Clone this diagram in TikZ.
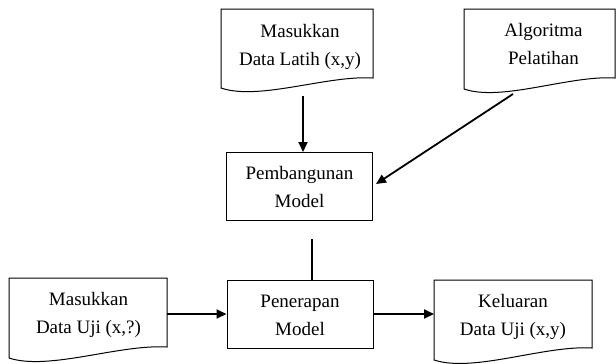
\documentclass[tikz,border=0pt]{standalone}
\usepackage{fontspec}
\setmainfont{Liberation Serif}
\usetikzlibrary{arrows.meta}
\newcommand\docshape[5]{\draw[docline] (#1,#3) -- (#2,#3) -- (#2,#5) .. controls ({#1+0.7*(#2-#1)},{#5-3}) and ({#1+0.25*(#2-#1)},{#4+13}) .. (#1,#4) -- cycle;}
\tikzset{
  lbl/.style={font=\fontsize{19}{28}\selectfont, align=center, inner sep=0pt, text height=42pt, text depth=5pt},
  boxnode/.style={draw, line width=1pt, minimum width=146pt, minimum height=68pt, inner sep=0pt,
    font=\fontsize{19}{28}\selectfont, align=center, text height=47pt, text depth=5pt},
  docline/.style={line width=1pt, line join=miter},
  arr/.style={line width=1.8pt, -{Triangle[length=10pt,width=9pt]}},
  plain/.style={line width=1.5pt},
}
\begin{document}
\begin{tikzpicture}[x=1pt,y=-1pt]
\useasboundingbox (0,0) rectangle (616,364);
% documents
\docshape{221}{373}{9}{88}{78}
\docshape{464}{615}{9}{89}{78}
\docshape{9}{167}{278}{358}{347}
\docshape{434}{592}{280}{360}{348}
\node[lbl] (d1) at (300,46.5) {Masukkan\\Data Latih (x,y)};
\node[lbl] (d2) at (543.5,46) {Algoritma\\Pelatihan};
\node[lbl] (d3) at (88.5,314.5) {Masukkan\\Data Uji (x,?)};
\node[lbl] (d4) at (513,317) {Keluaran\\Data Uji (x,y)};
% process boxes
\node[boxnode] (pm) at (299.5,186) {Pembangunan\\Model};
\node[boxnode] (pn) at (300,314) {Penerapan\\Model};
% connector end points
\coordinate (d1out) at (303,96);
\coordinate (pmin) at (303,152);
\coordinate (d2out) at (513,94);
\coordinate (pmright) at (376,184);
\coordinate (pmlow) at (312,239);
\coordinate (pntop) at (312,280);
\coordinate (d3out) at (167,314);
\coordinate (d4in) at (434,314);
\draw[arr] (d1out) -- (pmin);
\draw[arr] (d2out) -- (pmright);
\draw[plain] (pmlow) -- (pntop);
\draw[arr] (d3out) -- (pn.west);
\draw[arr] (pn.east) -- (d4in);
\end{tikzpicture}
\end{document}
